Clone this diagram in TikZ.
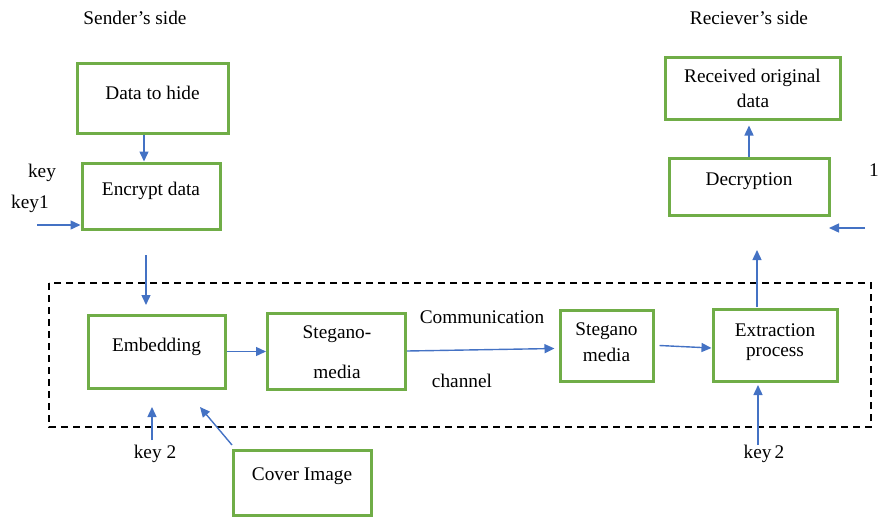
\documentclass[tikz,border=0pt]{standalone}
\usepackage{fontspec}
\setmainfont{Liberation Serif}
\usetikzlibrary{arrows.meta}
\definecolor{bgreen}{HTML}{70AD47}
\definecolor{ablue}{HTML}{4472C4}
\begin{document}
\begin{tikzpicture}[x=1pt,y=-1pt,
  box/.style={draw=bgreen,line width=3pt,inner sep=0pt},
  txt/.style={font=\fontsize{19.3}{23}\selectfont,inner sep=0pt,align=center},
  arr/.style={draw=ablue,line width=1.4pt,-{Triangle[length=10pt,width=9pt]}},
  frame/.style={draw=black,line width=2.2pt,dash pattern=on 7pt off 5pt}]
\useasboundingbox (0,0) rectangle (878,517);
% boxes
\node[box,minimum width=151,minimum height=70] (data) at (152.5,98) {};
\node[box,minimum width=138,minimum height=66] (enc) at (151,196) {};
\node[box,minimum width=175,minimum height=62] (rec) at (752.5,88) {};
\node[box,minimum width=160,minimum height=57] (dec) at (749,186.5) {};
\node[box,minimum width=137,minimum height=73] (emb) at (156.5,351.5) {};
\node[box,minimum width=138,minimum height=76] (sma) at (336.5,351) {};
\node[box,minimum width=93,minimum height=71] (smb) at (606.5,345.5) {};
\node[box,minimum width=124,minimum height=72] (ext) at (775,345) {};
\node[box,minimum width=138,minimum height=65] (cov) at (302,482.5) {};
% box texts
\node[txt] (tdata) at (152.5,92.5) {Data to hide};
\node[txt] (tenc) at (151,190.5) {Encrypt data};
\node[txt] (trec1) at (752.5,78) {Received original};
\node[txt] (trec2) at (753,101) {data};
\node[txt] (tdec) at (749,181.5) {Decryption};
\node[txt] (temb) at (156.5,346.5) {Embedding};
\node[txt] (tsma1) at (337,334.5) {Stegano-};
\node[txt] (tsma2) at (337,371.5) {media};
\node[txt] (tsmb1) at (606.5,331.5) {Stegano};
\node[txt] (tsmb2) at (606.5,354.5) {media};
\node[txt] (text1) at (775,330.5) {Extraction};
\node[txt] (text2) at (775,354.5) {process};
\node[txt] (tcov) at (302,476.5) {Cover Image};
% free texts
\node[txt] (ssend) at (135,17.5) {Sender’s side};
\node[txt] (srec) at (749,17.5) {Reciever’s side};
\node[txt] (tkey) at (42,172.5) {key};
\node[txt] (tkey1) at (30,203.5) {key1};
\node[txt] (tone) at (874,170.5) {1};
\node[txt] (tcomm) at (482,317.5) {Communication};
\node[txt] (tchan) at (462,380.5) {channel};
\node[txt] (tk2a) at (155,453.5) {key 2};
\node[txt] (tk2b) at (764,453.5) {key\,2};
% dashed frame
\draw[frame] (49,283) rectangle (871,427);
% coordinates
\coordinate (k1s) at (37,225);
\coordinate (e1) at (146,255);
\coordinate (e2) at (146,305);
\coordinate (k2s) at (152,440);
\coordinate (k2e) at (152,407);
\coordinate (cs) at (232,445);
\coordinate (ce) at (200,407);
\coordinate (xk1) at (758,445);
\coordinate (xk2) at (758,385);
\coordinate (xu1) at (757,307);
\coordinate (xu2) at (757,250);
\coordinate (rk1) at (865,228);
\coordinate (rk2) at (829,228);
% arrows
\draw[arr] ([xshift=-8.5pt]data.south) -- ([xshift=-7pt]enc.north);
\draw[arr] (k1s) -- (k1s -| enc.west);
\draw[arr] (e1) -- (e2);
\draw[arr] (emb.east) -- (sma.west |- emb.east);
\draw[arr] (sma.east) -- ([xshift=-4pt,yshift=-3pt]smb.west);
\draw[arr] ([xshift=5pt]smb.east) -- ([yshift=-3pt]ext.west);
\draw[arr] (k2s) -- (k2e);
\draw[arr] (cs) -- (ce);
\draw[arr] (xk1) -- (xk2);
\draw[arr] (xu1) -- (xu2);
\draw[arr,shorten >=5pt] (dec.north) -- (dec.north |- rec.south);
\draw[arr] (rk1) -- (rk2);
\end{tikzpicture}
\end{document}
